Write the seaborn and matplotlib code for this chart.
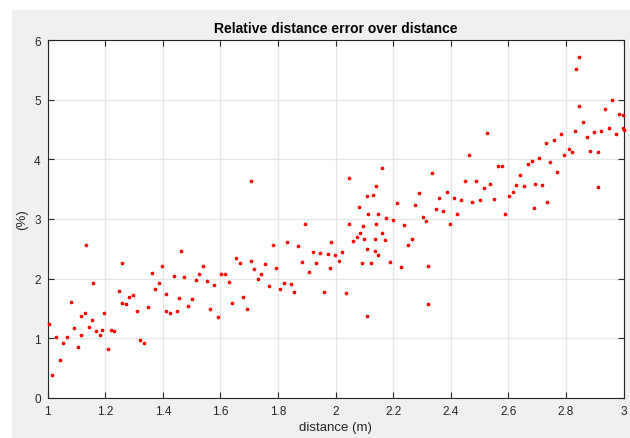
import numpy as np
import pandas as pd
import seaborn as sns
import matplotlib.pyplot as plt
from matplotlib.patches import Rectangle

# Data (distance in m, relative error in %)
distance = [
    1.132, 1.257, 1.156, 1.246, 1.284, 1.297, 1.257, 1.271, 1.080, 1.309,
    1.131, 1.117, 1.194, 1.153, 1.003, 1.092, 1.144, 1.169, 1.187, 1.220,
    1.232, 1.115, 1.182, 1.029, 1.068, 1.322, 1.336, 1.054, 1.105, 1.208,
    1.041, 1.016,
    1.463, 1.654, 1.667, 1.539, 1.398, 1.361, 1.437, 1.475, 1.526, 1.602,
    1.616, 1.514, 1.386, 1.552, 1.577, 1.628, 1.373, 1.411, 1.456, 1.500,
    1.679, 1.347, 1.489, 1.563, 1.640, 1.411, 1.424, 1.449, 1.590,
    1.705, 1.895, 1.832, 1.984, 1.782, 1.870, 1.921, 1.947, 1.972, 1.998,
    2.011, 1.705, 1.756, 1.883, 1.933, 1.717, 1.793, 1.980, 1.908, 1.742,
    1.730, 1.768, 1.820, 1.845, 1.807, 1.857, 1.959, 1.692,
    2.162, 2.047, 2.139, 2.108, 2.130, 2.290, 2.214, 2.277, 2.082, 2.113,
    2.149, 2.176, 2.201, 2.303, 2.315, 2.048, 2.095, 2.139, 2.239, 2.086,
    2.162, 2.074, 2.099, 2.138, 2.171, 2.264, 2.061, 2.252, 2.110, 2.136,
    2.023, 2.147, 2.091, 2.124, 2.189, 2.227, 2.322, 2.036, 2.320, 2.108,
    2.525, 2.462, 2.563, 2.577, 2.334, 2.641, 2.448, 2.487, 2.538, 2.628,
    2.514, 2.653, 2.615, 2.386, 2.602, 2.360, 2.410, 2.437, 2.475, 2.500,
    2.551, 2.348, 2.372, 2.423, 2.590, 2.398,
    2.847, 2.834, 2.961, 2.846, 2.936, 2.986, 2.998, 2.860, 2.948, 2.998,
    3.000, 2.833, 2.898, 2.923, 2.974, 2.783, 2.872, 2.757, 2.732, 2.809,
    2.822, 2.885, 2.910, 2.795, 2.706, 2.682, 2.668, 2.745, 2.770, 2.693,
    2.718, 2.911, 2.736, 2.689,
]
rel_error = [
    2.56, 2.27, 1.92, 1.79, 1.70, 1.72, 1.59, 1.58, 1.61, 1.45,
    1.42, 1.38, 1.42, 1.31, 1.24, 1.18, 1.19, 1.13, 1.14, 1.14,
    1.12, 1.06, 1.06, 1.03, 1.03, 0.98, 0.92, 0.93, 0.86, 0.82,
    0.64, 0.39,
    2.46, 2.34, 2.26, 2.22, 2.21, 2.09, 2.04, 2.03, 2.07, 2.07,
    2.08, 1.98, 1.93, 1.96, 1.89, 1.95, 1.83, 1.74, 1.67, 1.66,
    1.70, 1.52, 1.54, 1.50, 1.59, 1.46, 1.43, 1.45, 1.36,
    3.64, 2.92, 2.62, 2.62, 2.57, 2.54, 2.45, 2.43, 2.42, 2.39,
    2.29, 2.29, 2.24, 2.28, 2.26, 2.17, 2.18, 2.18, 2.12, 2.08,
    1.99, 1.88, 1.93, 1.91, 1.82, 1.78, 1.78, 1.50,
    3.85, 3.68, 3.56, 3.39, 3.41, 3.44, 3.27, 3.24, 3.20, 3.09,
    3.09, 3.01, 2.99, 3.03, 2.96, 2.91, 2.89, 2.91, 2.90, 2.76,
    2.76, 2.69, 2.67, 2.66, 2.65, 2.67, 2.63, 2.56, 2.49, 2.46,
    2.44, 2.39, 2.26, 2.27, 2.28, 2.19, 2.22, 1.76, 1.57, 1.38,
    4.44, 4.08, 3.89, 3.88, 3.77, 3.73, 3.63, 3.63, 3.58, 3.57,
    3.52, 3.55, 3.46, 3.46, 3.39, 3.35, 3.36, 3.32, 3.28, 3.32,
    3.34, 3.17, 3.14, 3.08, 3.08, 2.91,
    5.72, 5.52, 5.00, 4.90, 4.85, 4.76, 4.74, 4.63, 4.53, 4.52,
    4.50, 4.48, 4.46, 4.47, 4.43, 4.42, 4.37, 4.32, 4.27, 4.17,
    4.13, 4.14, 4.13, 4.07, 4.03, 3.98, 3.92, 3.96, 3.78, 3.58,
    3.57, 3.54, 3.29, 3.19,
]
x_ticks = [1, 1.2, 1.4, 1.6, 1.8, 2, 2.2, 2.4, 2.6, 2.8, 3]
x_tick_labels = ['1', '1.2', '1.4', '1.6', '1.8', '2', '2.2', '2.4', '2.6', '2.8', '3']
y_ticks = [0, 1, 2, 3, 4, 5, 6]

df = pd.DataFrame({'distance': distance, 'error': rel_error})

sns.set_style('ticks')
plt.rcParams['font.family'] = ['Liberation Sans', 'DejaVu Sans']

fig = plt.figure(figsize=(6.3, 4.39), dpi=100, facecolor='white')
# grey MATLAB figure background (white strip on top/left from the screenshot)
fig.patches.append(Rectangle((12 / 630, 0), 1, (439 - 11) / 439,
                             transform=fig.transFigure, facecolor='#f0f0f0',
                             edgecolor='none', zorder=-10))

ax = fig.add_axes([47.7 / 630, 40 / 439, 575.8 / 630, 358 / 439])
ax.set_facecolor('white')

sns.scatterplot(data=df, x='distance', y='error', ax=ax, color='#ff0000',
                s=7, linewidth=0, marker='o', clip_on=False, zorder=3)

ax.set_xlim(1, 3)
ax.set_ylim(0, 6)
ax.set_xticks(x_ticks)
ax.set_xticklabels(x_tick_labels)
ax.set_yticks(y_ticks)
ax.grid(True, color='#e6e6e6', linewidth=0.9)
ax.set_axisbelow(True)

ax.tick_params(direction='in', length=4, width=0.8, top=True, right=True,
               labelsize=8.5, colors='#262626', pad=5)
for side in ['top', 'bottom', 'left', 'right']:
    ax.spines[side].set_visible(True)
    ax.spines[side].set_color('#262626')
    ax.spines[side].set_linewidth(0.8)

ax.set_title('Relative distance error over distance', fontsize=10,
             fontweight='bold', color='black', pad=6)
ax.set_xlabel('distance (m)', fontsize=9.5, color='#262626', labelpad=3)
ax.set_ylabel('(%)', fontsize=9.5, color='#262626', labelpad=4)

fig.savefig('out.png', dpi=100, facecolor=fig.get_facecolor())
